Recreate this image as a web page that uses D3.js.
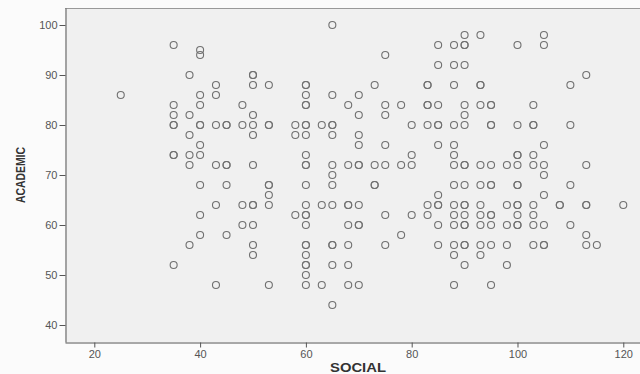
<!DOCTYPE html>
<html>
<head>
<meta charset="utf-8">
<script src="https://cdn.jsdelivr.net/npm/d3@7"></script>
<style>
  body { margin: 0; background: #fbfbfb; }
  .tick text { font-family: "Liberation Sans", Arial, sans-serif; font-size: 11px; fill: #555; }
  .tick line { stroke: #555; }
  .domain { stroke: #555; }
  .axis-title { font-family: "Liberation Sans", Arial, sans-serif; font-weight: bold; fill: #333; }
</style>
</head>
<body>
<svg id="chart"></svg>
<script>
// academic score rows, and the social scores found on each row (repeats = overlapping points)
const academicRows = [100, 98, 96, 95, 94, 92, 90, 88, 86, 84, 82, 80, 78, 76, 74, 72, 70, 68, 66, 64, 62, 60, 58, 56, 54, 52, 50, 48, 44];
const socialRows = [
    [65],
    [90, 93, 105],
    [35, 85, 88, 90, 90, 100, 105],
    [40],
    [40, 75],
    [85, 88, 90],
    [38, 50, 50, 113],
    [43, 50, 53, 60, 60, 73, 83, 83, 88, 93, 93, 110],
    [25, 40, 43, 60, 65, 70],
    [35, 40, 48, 60, 60, 68, 75, 78, 83, 83, 85, 90, 93, 95, 95, 103],
    [35, 38, 50, 70, 75, 90],
    [35, 35, 40, 40, 43, 45, 45, 48, 50, 53, 53, 58, 60, 60, 63, 65, 65, 80, 83, 85, 85, 88, 90, 95, 95, 100, 103, 103, 110],
    [38, 50, 58, 60, 65, 70],
    [40, 70, 75, 85, 88, 105],
    [35, 35, 38, 40, 60, 80, 88, 100, 100, 103],
    [38, 43, 45, 45, 50, 60, 60, 65, 68, 70, 70, 73, 75, 78, 80, 88, 90, 90, 93, 95, 98, 100, 103, 105, 113],
    [65, 105],
    [40, 45, 53, 53, 60, 65, 73, 73, 88, 90, 93, 95, 95, 100, 100, 110],
    [53, 85, 105],
    [43, 48, 50, 50, 53, 60, 63, 65, 68, 68, 70, 83, 85, 85, 88, 90, 90, 93, 98, 100, 100, 103, 108, 108, 113, 113, 120],
    [40, 58, 60, 60, 75, 80, 83, 88, 90, 93, 95, 95, 100, 103],
    [48, 50, 60, 68, 70, 70, 85, 88, 90, 90, 93, 95, 98, 100, 100, 103, 105, 110],
    [40, 45, 78, 113],
    [38, 50, 60, 60, 65, 65, 68, 75, 85, 88, 90, 90, 93, 95, 98, 103, 105, 105, 113, 115],
    [50, 60, 88, 93],
    [35, 60, 60, 65, 68, 90, 98],
    [60],
    [43, 53, 60, 63, 68, 70, 88, 95],
    [65]
];
const xTicks = [20, 40, 60, 80, 100, 120];
const yTicks = [40, 50, 60, 70, 80, 90, 100];

const width = 640, height = 374;
const plot = { left: 65, top: 8, right: 640, bottom: 342 };

const points = [];
academicRows.forEach((a, i) => {
    socialRows[i].forEach(s => points.push({ social: s, academic: a }));
});

const svg = d3.select("#chart")
    .attr("width", width)
    .attr("height", height);

const x = d3.scaleLinear()
    .domain([14.46, 123.16])
    .range([plot.left, plot.right]);

const y = d3.scaleLinear()
    .domain([36.6, 103.4])
    .range([plot.bottom, plot.top]);

// plot background
svg.append("rect")
    .attr("x", plot.left)
    .attr("y", plot.top)
    .attr("width", plot.right - plot.left)
    .attr("height", plot.bottom - plot.top)
    .attr("fill", "#f0f0f0");

svg.append("line")
    .attr("x1", plot.left).attr("x2", plot.right)
    .attr("y1", plot.top + 0.5).attr("y2", plot.top + 0.5)
    .attr("stroke", "#999");

svg.append("g")
    .attr("transform", `translate(0, ${plot.bottom + 0.5})`)
    .call(d3.axisBottom(x).tickValues(xTicks).tickSize(5).tickSizeOuter(0).tickPadding(3));

svg.append("g")
    .attr("transform", `translate(${plot.left + 0.5}, 0)`)
    .call(d3.axisLeft(y).tickValues(yTicks).tickSize(6).tickSizeOuter(0).tickPadding(2));

svg.append("g")
    .selectAll("circle")
    .data(points)
    .join("circle")
    .attr("cx", d => x(d.social))
    .attr("cy", d => y(d.academic))
    .attr("r", 3.5)
    .attr("fill", "none")
    .attr("stroke", "#707070")
    .attr("stroke-width", 1.1);

svg.append("text")
    .attr("class", "axis-title")
    .attr("x", 358)
    .attr("y", 372)
    .attr("text-anchor", "middle")
    .attr("font-size", "12px")
    .attr("textLength", 56)
    .attr("lengthAdjust", "spacingAndGlyphs")
    .text("SOCIAL");

svg.append("text")
    .attr("class", "axis-title")
    .attr("transform", "translate(25, 175) rotate(-90)")
    .attr("text-anchor", "middle")
    .attr("font-size", "13px")
    .attr("textLength", 56)
    .attr("lengthAdjust", "spacingAndGlyphs")
    .text("ACADEMIC");
</script>
</body>
</html>
